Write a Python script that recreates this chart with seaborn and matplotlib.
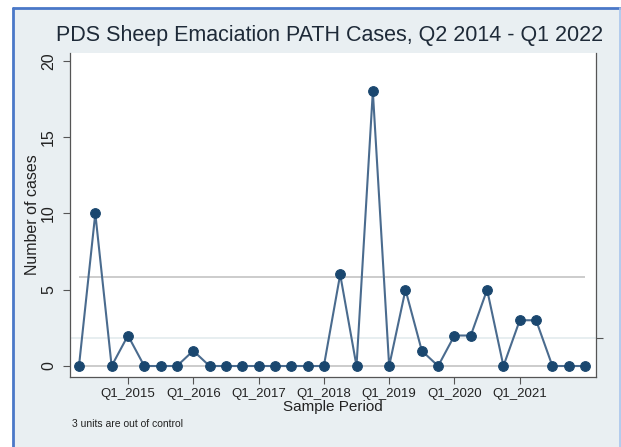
import numpy as np
import pandas as pd
import seaborn as sns
import matplotlib.pyplot as plt
from matplotlib.lines import Line2D
from matplotlib.patches import Rectangle

# Quarterly case counts, Q2 2014 - Q1 2022
quarters = [f"Q{q}_{y}" for y in range(2014, 2023) for q in range(1, 5)][1:33]
cases = [0, 10, 0, 2, 0, 0, 0, 1, 0, 0, 0, 0, 0, 0, 0, 0,
         6, 0, 18, 0, 5, 1, 0, 2, 2, 5, 0, 3, 3, 0, 0, 0]
tick_labels = ["Q1_2015", "Q1_2016", "Q1_2017", "Q1_2018", "Q1_2019", "Q1_2020", "Q1_2021"]

df = pd.DataFrame({'period': np.arange(len(cases)), 'quarter': quarters, 'cases': cases})

# c-chart limits
cbar = df['cases'].mean()
ucl = cbar + 3 * np.sqrt(cbar)
n_out = int((df['cases'] > ucl).sum())

sns.set_style('white')
plt.rcParams['font.family'] = ['Liberation Sans', 'DejaVu Sans']

W, H = 621, 447
fig = plt.figure(figsize=(W / 100, H / 100), dpi=100)
fig.patch.set_facecolor('white')

# screenshot-style frame
fig.add_artist(Rectangle((13 / W, 0), 1 - 13 / W, 1 - 8 / H, transform=fig.transFigure,
                         facecolor='#e9eff2', edgecolor='none', zorder=-10))
fig.add_artist(Line2D([13 / W, 13 / W], [0, 1 - 8 / H], transform=fig.transFigure,
                      color='#4a78c8', lw=2))
fig.add_artist(Line2D([13 / W, 1], [1 - 8 / H, 1 - 8 / H], transform=fig.transFigure,
                      color='#4a78c8', lw=2))
fig.add_artist(Line2D([619.5 / W, 619.5 / W], [0, 1 - 8 / H], transform=fig.transFigure,
                      color='#a9c6ec', lw=1.2))

ax = fig.add_axes([70 / W, 1 - 377 / H, (596 - 70) / W, (377 - 53) / H])
ax.set_facecolor('white')

ax.axhline(cbar, color='#e3ebee', lw=1.2, zorder=1)
ax.hlines([ucl, 0], 0, len(cases) - 1, color='#c4c4c4', lw=1.2, zorder=1)

sns.lineplot(data=df, x='period', y='cases', ax=ax, color='#4a6b8e', lw=1.5,
             marker='o', markersize=7, markerfacecolor='#1a476f',
             markeredgecolor='#1a476f', zorder=3)

ax.set_xlim(-0.55, 31.67)
ax.set_ylim(-0.72, 20.52)

ax.set_xticks([df.index[df['quarter'] == t][0] for t in tick_labels])
ax.set_xticklabels(tick_labels, fontsize=9.5, color='#222222')
ax.set_yticks([0, 5, 10, 15, 20])
ax.set_yticklabels(['0', '5', '10', '15', '20'], rotation=90, va='center',
                   fontsize=11.5, color='#222222')
ax.tick_params(axis='both', length=5, width=0.8, color='#555555', direction='out', pad=3,
               left=True, bottom=True)
ax.tick_params(axis='y', pad=5)

sec = ax.secondary_yaxis('right')
sec.set_yticks([cbar])
sec.set_yticklabels([''])
sec.tick_params(length=5, width=0.8, color='#555555')
sec.spines['right'].set_visible(False)

for s in ['left', 'bottom', 'right']:
    ax.spines[s].set_color('#555555')
    ax.spines[s].set_linewidth(0.9)
ax.spines['top'].set_visible(False)

ax.set_xlabel('Sample Period', fontsize=11, color='#222222', labelpad=0)
ax.set_ylabel('Number of cases', fontsize=11.5, color='#222222', labelpad=1)

fig.text(330 / W, 1 - 35 / H, 'PDS Sheep Emaciation PATH Cases, Q2 2014 - Q1 2022',
         ha='center', va='center', fontsize=15.5, color='#1e2a38')
fig.text(72 / W, 1 - 424 / H, f'{n_out} units are out of control',
         ha='left', va='center', fontsize=7.5, color='#222222')

fig.savefig('out.png', dpi=100)
